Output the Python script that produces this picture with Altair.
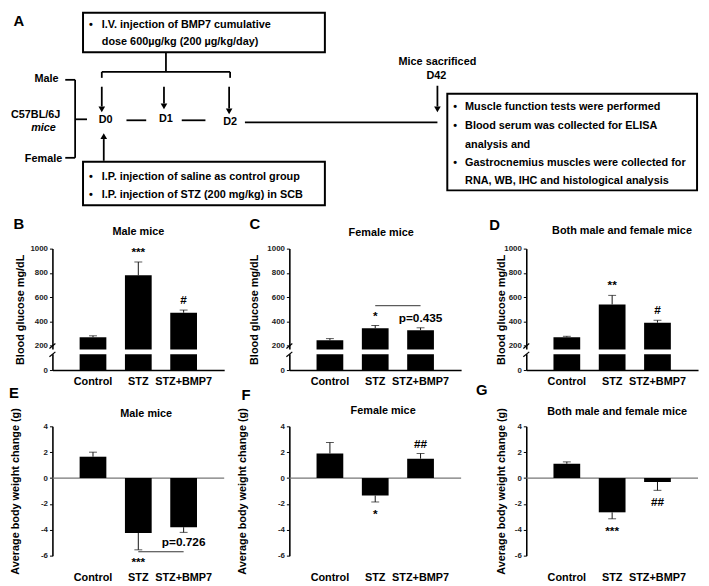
import altair as alt
import pandas as pd

# ---------------- data ----------------
cats = ["Control", "STZ", "STZ+BMP7"]

glu_male = [270, 780, 472]
glu_male_err = [12, 110, 22]
glu_male_sig = ["", "***", "#"]

glu_female = [245, 345, 328]
glu_female_err = [14, 22, 20]
glu_female_sig = ["", "*", ""]

glu_both = [270, 540, 390]
glu_both_err = [8, 75, 20]
glu_both_sig = ["", "**", "#"]

wt_male = [1.65, -4.25, -3.8]
wt_male_err = [0.35, 1.3, 0.4]
wt_male_sig = ["", "***", ""]

wt_female = [1.9, -1.35, 1.5]
wt_female_err = [0.85, 0.5, 0.4]
wt_female_sig = ["", "*", "##"]

wt_both = [1.1, -2.65, -0.3]
wt_both_err = [0.15, 0.5, 0.65]
wt_both_sig = ["", "***", "##"]

glu_ticks = [0, 200, 400, 600, 800, 1000]
wt_ticks = [-6, -4, -2, 0, 2, 4]

cmp_female = {"pair": ["STZ", "STZ+BMP7"], "line": 530, "text_at": 425, "label": "p=0.435"}
cmp_wt_male = {"pair": ["STZ", "STZ+BMP7"], "line": -5.7, "text_at": -4.95, "label": "p=0.726"}

FONT = "Liberation Sans"
W = 174
H1 = 123
H2 = 131


def panel(vals, errs, sigs, title, letter, ytitle, domain, ticks, kind,
          letter_off, ytitle_x, title_pos, cmp=None):
    h = H1 if kind == "glu" else H2
    df = pd.DataFrame({"cat": cats, "v": vals, "err": errs, "sig": sigs})
    df["dir"] = [1 if v >= 0 else -1 for v in vals]
    df["end"] = df["v"] + df["dir"] * df["err"]

    xaxis = alt.Axis(title=None, labelAngle=0, labelFontSize=11, labelFontWeight="bold",
                     labelColor="black", domain=(kind == "glu"), domainColor="black",
                     domainWidth=1.5, ticks=False,
                     labelPadding=6 if kind == "glu" else 16)
    x = alt.X("cat:N", sort=cats, scale=alt.Scale(paddingInner=0.41, paddingOuter=0.6),
              axis=xaxis)
    yaxis = alt.Axis(values=ticks, title=ytitle, grid=False, domainColor="black",
                     domainWidth=1.6, tickColor="black", tickSize=3, labelFontSize=8,
                     labelFontWeight="bold", labelColor="#222", labelPadding=2,
                     labelExpr="'' + datum.value",
                     titleFontSize=11, titleFontWeight="bold", titleColor="black",
                     titleX=ytitle_x, titleY=h / 2, titleAngle=270, titleAlign="center",
                     titleBaseline="middle")
    ysc = alt.Scale(domain=domain, nice=False, zero=False)

    def Y(field):
        return alt.Y(field, scale=ysc, axis=yaxis, title=ytitle)

    base = alt.Chart(df)
    one = alt.Chart(pd.DataFrame({"a": [0]}))
    layers = []
    if kind == "wt":
        layers.append(one.mark_rule(color="#777", strokeWidth=1.3)
                      .encode(y=alt.datum(0, scale=ysc, axis=yaxis, title=ytitle)))
    layers.append(base.mark_bar(color="black").encode(x=x, y=Y("v:Q")))
    layers.append(base.mark_rule(color="#111", strokeWidth=1).encode(x=x, y=Y("v:Q"), y2="end:Q"))
    layers.append(base.mark_tick(color="#111", thickness=1, size=8).encode(x=x, y=Y("end:Q")))
    layers.append(base.transform_filter("datum.dir > 0")
                  .mark_text(dy=-10, fontSize=12, fontWeight="bold", color="black", baseline="middle")
                  .encode(x=x, y=Y("end:Q"), text="sig:N"))
    layers.append(base.transform_filter("datum.dir < 0")
                  .mark_text(dy=12, fontSize=12, fontWeight="bold", color="black", baseline="middle")
                  .encode(x=x, y=Y("end:Q"), text="sig:N"))
    if kind == "glu":
        layers.append(one.mark_rect(color="white").encode(
            x=alt.value(-3), x2=alt.value(W + 3),
            y=alt.datum(130, scale=ysc, axis=yaxis, title=ytitle), y2=alt.datum(170)))
        for lo, hi in [(110, 150), (178, 218)]:
            layers.append(one.mark_rule(color="black", strokeWidth=1.2).encode(
                x=alt.value(-3), x2=alt.value(3),
                y=alt.datum(lo, scale=ysc, axis=yaxis, title=ytitle), y2=alt.datum(hi)))
    if cmp is not None:
        cdf = pd.DataFrame({"cat": cmp["pair"], "level": [cmp["line"]] * 2})
        layers.append(alt.Chart(cdf).mark_line(color="#333", strokeWidth=1)
                      .encode(x=x, y=Y("level:Q")))
        tdf = pd.DataFrame({"cat": [cmp["pair"][1]], "level": [cmp["text_at"]], "t": [cmp["label"]]})
        layers.append(alt.Chart(tdf).mark_text(fontSize=12, fontWeight="bold", color="black")
                      .encode(x=x, y=Y("level:Q"), text="t:N"))
    # panel letter
    layers.append(one.mark_text(
        fontSize=15, fontWeight="bold", color="black", align="center", baseline="middle")
        .encode(x=alt.value(letter_off[0]), y=alt.value(letter_off[1]), text=alt.value(letter)))
    # panel title
    layers.append(one.mark_text(
        fontSize=11, fontWeight="bold", color="black", align="center", baseline="middle")
        .encode(x=alt.value(W / 2 + title_pos[0]), y=alt.value(title_pos[1]), text=alt.value(title)))
    return alt.layer(*layers).properties(width=W, height=h)


GT = "Blood glucose mg/dL"
WT = "Average body weight change (g)"
B = panel(glu_male, glu_male_err, glu_male_sig, "Male mice", "B", GT, [0, 1000], glu_ticks, "glu",
          (-34, -25), -32, (0, -17))
C = panel(glu_female, glu_female_err, glu_female_sig, "Female mice", "C", GT, [0, 1000], glu_ticks, "glu",
          (-35, -25), -35, (6, -16), cmp_female)
D = panel(glu_both, glu_both_err, glu_both_sig, "Both male and female mice", "D", GT, [0, 1000], glu_ticks, "glu",
          (-32, -24), -25, (10, -18))
E = panel(wt_male, wt_male_err, wt_male_sig, "Male mice", "E", WT, [-6, 4], wt_ticks, "wt",
          (-39, -34), -37, (8, -12), cmp_wt_male)
F = panel(wt_female, wt_female_err, wt_female_sig, "Female mice", "F", WT, [-6, 4], wt_ticks, "wt",
          (-44, -32), -47, (8, -15))
G = panel(wt_both, wt_both_err, wt_both_sig, "Both male and female mice", "G", WT, [-6, 4], wt_ticks, "wt",
          (-45, -37), -25, (5, -14))

# ---------------- schematic (panel A) ----------------
texts_left = [
    (97, 20, "I.V. injection of  BMP7 cumulative"),
    (97, 38, "dose 600\u00b5g/kg (200 \u00b5g/kg/day)"),
    (97, 174, "I.P. injection of  saline as control group"),
    (97, 193, "I.P. injection of STZ (200 mg/kg) in SCB"),
    (465, 104, "Muscle function tests were performed"),
    (465, 123, "Blood  serum was collected for ELISA"),
    (465, 142, "analysis and"),
    (465, 160, "Gastrocnemius  muscles were collected for"),
    (465, 179, "RNA, WB, IHC and histological analysis"),
]
bullets = [(86, 20), (86, 174), (86, 193), (455, 104), (455, 123), (455, 160)]
texts_center = [
    (41, 75, "Male"), (30, 112, "C57BL/6J"), (38, 156, "Female"),
    (101, 117, "D0"), (162, 116, "D1"), (227, 119, "D2"),
    (437, 58, "Mice sacrificed"), (436, 72, "D42"),
]
texts_italic = [(38, 125, "mice")]
boxes = [(78, 8, 323, 48), (78, 159, 323, 203), (447, 90, 700, 188)]
lines = [
    (162, 48, 162, 67), (97, 68, 227, 68), (97, 68, 97, 74), (227, 68, 227, 74),
    (97, 83, 97, 103), (160, 83, 160, 100), (226, 83, 226, 105),
    (122, 117, 142, 117), (178, 117, 202, 117), (242, 119, 437, 119),
    (60, 76, 70, 76), (70, 76, 70, 155), (60, 155, 70, 155), (70, 116, 82, 116),
    (99, 158, 99, 136), (437, 82, 437, 103),
]
heads_down = [(97, 106), (160, 103), (226, 108), (437, 106)]
heads_up = [(99, 133)]

xs = alt.Scale(domain=[47, 701], nice=False, zero=False)
ys = alt.Scale(domain=[190, 8], nice=False, zero=False)
SW = 654
SH = 182


def sx(f):
    return alt.X(f, scale=xs, axis=None)


def sy(f):
    return alt.Y(f, scale=ys, axis=None)


tl = pd.DataFrame(texts_left, columns=["x", "y", "t"])
tc = pd.DataFrame(texts_center, columns=["x", "y", "t"])
ti = pd.DataFrame(texts_italic, columns=["x", "y", "t"])
bl = pd.DataFrame(bullets, columns=["x", "y"])
bx = pd.DataFrame(boxes, columns=["x", "y", "x2", "y2"])
ln = pd.DataFrame(lines, columns=["x", "y", "x2", "y2"])
hd = pd.DataFrame(heads_down, columns=["x", "y"])
hu = pd.DataFrame(heads_up, columns=["x", "y"])

schem = alt.layer(
    alt.Chart(bx).mark_rect(fillOpacity=0, stroke="black", strokeWidth=2).encode(
        x=sx("x:Q"), y=sy("y:Q"), x2="x2:Q", y2="y2:Q"),
    alt.Chart(ln).mark_rule(color="black", strokeWidth=1.8).encode(
        x=sx("x:Q"), y=sy("y:Q"), x2="x2:Q", y2="y2:Q"),
    alt.Chart(hd).mark_point(shape="triangle-down", filled=True, size=45, color="black", opacity=1).encode(
        x=sx("x:Q"), y=sy("y:Q")),
    alt.Chart(hu).mark_point(shape="triangle-up", filled=True, size=45, color="black", opacity=1).encode(
        x=sx("x:Q"), y=sy("y:Q")),
    alt.Chart(tl).mark_text(align="left", baseline="middle", fontSize=11, fontWeight="bold", color="black").encode(
        x=sx("x:Q"), y=sy("y:Q"), text="t:N"),
    alt.Chart(bl).mark_text(align="center", baseline="middle", fontSize=11, fontWeight="bold", color="black", text="\u2022").encode(
        x=sx("x:Q"), y=sy("y:Q")),
    alt.Chart(tc).mark_text(align="center", baseline="middle", fontSize=11, fontWeight="bold", color="black").encode(
        x=sx("x:Q"), y=sy("y:Q"), text="t:N"),
    alt.Chart(ti).mark_text(align="center", baseline="middle", fontSize=11, fontWeight="bold", fontStyle="italic", color="black").encode(
        x=sx("x:Q"), y=sy("y:Q"), text="t:N"),
    alt.Chart(pd.DataFrame({"x": [13], "y": [16], "t": ["A"]})).mark_text(
        align="center", baseline="middle", fontSize=15, fontWeight="bold", color="black").encode(
        x=sx("x:Q"), y=sy("y:Q"), text="t:N"),
).properties(width=SW, height=SH)

grid = alt.concat(B, C, D, E, F, G, columns=3, spacing={"row": 57, "column": 66},
                  bounds="flush", align="each")

chart = alt.vconcat(schem, grid, spacing=57, bounds="flush").properties(
    padding=0, background="white"
).configure(font=FONT).configure_view(stroke=None)

chart.save("out.html", embed_options={"renderer": "svg", "actions": False})
